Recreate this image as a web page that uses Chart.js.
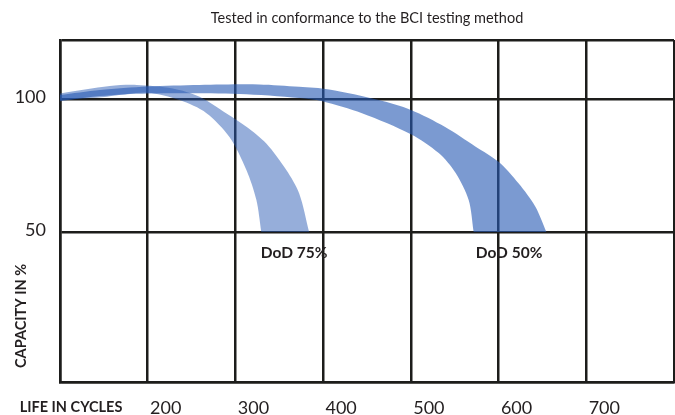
<!DOCTYPE html>
<html>
<head>
<meta charset="utf-8">
<script src="https://cdn.jsdelivr.net/npm/chart.js@4/dist/chart.umd.min.js"></script>
<style>
  html, body { margin: 0; padding: 0; background: #fff; overflow: hidden; }
  canvas { display: block; }
</style>
</head>
<body>
<canvas id="lifeChart" width="675" height="415"></canvas>
<script>
// Ejes: ciclos (x) y capacidad en % (y)
const xTickLabels = [200, 300, 400, 500, 600, 700];
const yTickLabels = [50, 100];

// Banda DoD 75%: borde exterior y borde interior
const dod75Outer = [
  [100, 102.1], [156.8, 104.9], [187.5, 105.3], [228.4, 104.0], [259.1, 100.9],
  [289.8, 94.6], [312.5, 89.6], [335.2, 83.3], [358, 73.3], [372.7, 64.5], [384, 50]
];
const dod75Inner = [
  [329.5, 50], [323.9, 62], [312.5, 73.3], [293.2, 85.7], [267, 94.7],
  [236.4, 99.6], [200, 102.4], [153.4, 100.9], [100, 99.6]
];

// Banda DoD 50%
const dod50Outer = [
  [100, 101.5], [145.5, 103.4], [200, 104.7], [259, 105.3], [327, 105.5],
  [372.7, 104.6], [406.8, 103.6], [463.6, 99.6], [500, 95.9], [538.6, 89.6],
  [573.9, 82.1], [600, 76.4], [622.7, 68.3], [642, 59.5], [654.5, 50]
];
const dod50Inner = [
  [571.6, 50], [565.9, 62], [551.1, 72.2], [531.8, 79.7], [500, 86.8],
  [444.3, 94.7], [398.9, 99.2], [372.7, 100.4], [304.5, 101.9], [200, 102.1],
  [145.5, 101.1], [100, 99.2]
];

const FONT = "Lato, 'Open Sans', sans-serif";
const TEXT = '#231f20';
const GRID = '#1d1d1b';

// Cierra la banda: exterior + interior, repitiendo las esquinas para que queden rectas
function banda(outer, inner) {
  const pts = [];
  outer.forEach(p => pts.push({ x: p[0], y: p[1] }));
  const last = outer[outer.length - 1];
  pts.push({ x: last[0], y: last[1] });
  const first = inner[0];
  pts.push({ x: first[0], y: first[1] });
  inner.forEach(p => pts.push({ x: p[0], y: p[1] }));
  return pts;
}

// Textos fijos: títulos de ejes y etiquetas de las bandas
const textosExtra = {
  id: 'textosExtra',
  afterDatasetsDraw(chart) {
    const ctx = chart.ctx;
    const xs = chart.scales.x;
    const ys = chart.scales.y;
    ctx.save();
    ctx.fillStyle = TEXT;
    ctx.font = "bold 15.5px " + FONT;
    ctx.textBaseline = 'middle';
    ctx.textAlign = 'left';
    ctx.fillText('DoD 75%', xs.getPixelForValue(329), ys.getPixelForValue(42));
    ctx.fillText('DoD 50%', xs.getPixelForValue(574), ys.getPixelForValue(42));

    ctx.font = "bold 14.5px " + FONT;
    ctx.textAlign = 'center';
    ctx.fillText('LIFE IN CYCLES', 71, 407);

    ctx.translate(21, 316);
    ctx.rotate(-Math.PI / 2);
    ctx.fillText('CAPACITY IN %', 0, 0);
    ctx.restore();
  }
};

const ctx = document.getElementById('lifeChart').getContext('2d');
new Chart(ctx, {
  type: 'line',
  data: {
    datasets: [
      {
        label: 'DoD 75%',
        data: banda(dod75Outer, dod75Inner),
        backgroundColor: 'rgba(40, 90, 180, 0.49)',
        borderWidth: 0,
        pointRadius: 0,
        tension: 0.3,
        fill: 'shape'
      },
      {
        label: 'DoD 50%',
        data: banda(dod50Outer, dod50Inner),
        backgroundColor: 'rgba(40, 90, 180, 0.61)',
        borderWidth: 0,
        pointRadius: 0,
        tension: 0.3,
        fill: 'shape'
      }
    ]
  },
  options: {
    responsive: false,
    animation: false,
    layout: { autoPadding: false, padding: { left: 0, right: 1, top: 0, bottom: 0 } },
    plugins: {
      legend: { display: false },
      tooltip: { enabled: false },
      title: {
        display: true,
        text: 'Tested in conformance to the BCI testing method',
        fullSize: false,
        color: TEXT,
        font: { family: FONT, size: 14.5, weight: 'normal', lineHeight: 1.2 },
        padding: { top: 10, bottom: 12.6 }
      }
    },
    scales: {
      x: {
        type: 'linear',
        min: 100,
        max: 800,
        afterFit(scale) { scale.height = 33; },
        ticks: {
          stepSize: 100,
          padding: 0,
          labelOffset: 18,
          color: TEXT,
          // el alto de línea baja las etiquetas sin añadir margen a la derecha
          font: { family: FONT, size: 18, lineHeight: 2.9 },
          callback: v => xTickLabels.includes(v) ? String(v) : ''
        },
        grid: { color: GRID, lineWidth: 2.5, drawTicks: false },
        border: { display: true, color: GRID, width: 2.5 }
      },
      y: {
        min: -6.4,
        max: 122.2,
        afterFit(scale) { scale.width = 60; },
        afterBuildTicks(scale) {
          scale.ticks = [-6.4, ...yTickLabels, 122.2].map(v => ({ value: v }));
        },
        ticks: {
          padding: 14,
          labelOffset: -2,
          color: TEXT,
          font: { family: FONT, size: 18 },
          callback: v => yTickLabels.includes(v) ? String(v) : ''
        },
        grid: { color: GRID, lineWidth: 2.5, drawTicks: false },
        border: { display: true, color: GRID, width: 2.5 }
      }
    }
  },
  plugins: [textosExtra]
});
</script>
</body>
</html>
